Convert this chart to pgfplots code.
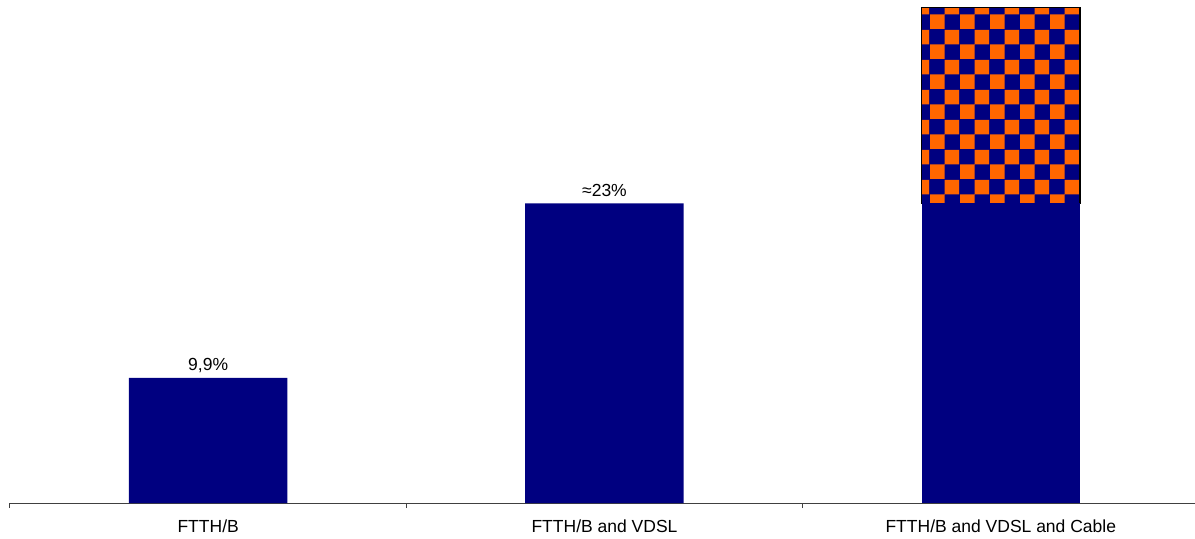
\documentclass[border=0pt]{standalone}
\usepackage{fontspec}
\setmainfont{Liberation Sans}
\usepackage{pgfplots}
\pgfplotsset{compat=1.18}
\usetikzlibrary{patterns}
\definecolor{navyb}{HTML}{000080}
\definecolor{orangeb}{HTML}{FF6600}
\pgfdeclarepatternformonly{bigcheck}{\pgfpointorigin}{\pgfqpoint{15pt}{15pt}}{\pgfqpoint{15pt}{15pt}}{%
 \pgfpathrectangle{\pgfpointorigin}{\pgfqpoint{7.5pt}{7.5pt}}%
 \pgfpathrectangle{\pgfqpoint{7.5pt}{7.5pt}}{\pgfqpoint{7.5pt}{7.5pt}}%
 \pgfusepath{fill}}
\pgfplotsset{
  common/.style={
    at={(0,0)}, anchor=south west, scale only axis,
    width=592.5pt, height=251.5pt,
    xmin=-0.5, xmax=2.49, ymin=0, ymax=39.8,
    clip=false,
  }
}
\begin{document}
\begin{tikzpicture}[font=\fontsize{8.75}{10.5}\selectfont]
\path[use as bounding box] (-5pt,-17.5pt) rectangle (592.5pt,251.5pt);
\begin{axis}[
  common,
  axis y line=none, axis x line*=bottom,
  x axis line style={black!75, line width=0.5pt, -},
  xtick={0,1,2},
  xticklabels={FTTH/B, FTTH/B and VDSL, FTTH/B and VDSL and Cable},
  major tick length=0pt,
  minor xtick={-0.5,0.5,1.5},
  minor tick length=2.5pt, tick align=outside,
  minor tick style={black!75, line width=0.5pt},
  xticklabel style={anchor=base, yshift=-14.9pt},
  ybar, bar width=0.4, bar shift=0pt,
]
\addplot[fill=navyb, draw=none,
  nodes near coords, point meta=explicit symbolic,
  nodes near coords style={anchor=base, yshift=3.7pt, text=black, inner sep=0pt}]
  coordinates {(0,9.9) [9,9\%] (1,23.7) [≈23\%]};
\end{axis}
\begin{axis}[
  common, hide axis,
  ybar stacked, bar width=0.4,
]
\addplot[fill=navyb, draw=none] coordinates {(2,23.7)};
\addplot[draw=black, line width=0.8pt, pattern=bigcheck, pattern color=orangeb,
  preaction={fill=navyb}] coordinates {(2,15.5)};
\end{axis}
\end{tikzpicture}
\end{document}
